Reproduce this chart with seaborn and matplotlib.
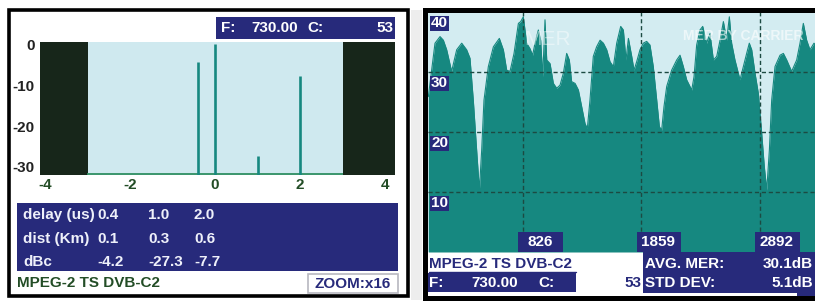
import matplotlib
matplotlib.use("Agg")
import matplotlib.pyplot as plt
import matplotlib.transforms as mtransforms
from matplotlib.patches import Rectangle
from matplotlib.lines import Line2D
import pandas as pd
import seaborn as sns

# ---------------- data: left panel (echo / impulse profile) ----------------
echo_delay_us = [-0.4, 0.0, 1.0, 2.0]
echo_level_dbc = [-4.2, 0.0, -27.3, -7.7]
left_xticks = [-4, -2, 0, 2, 4]
left_yticks = [0, -10, -20, -30]
guard_interval_us = 3.0
table_row_labels = ["delay (us)", "dist (Km)", "dBc"]
table_delay = ["0.4", "1.0", "2.0"]
table_dist = ["0.1", "0.3", "0.6"]
table_dbc = ["-4.2", "-27.3", "-7.7"]
freq_text = "730.00"
channel_text = "53"
zoom_text = "ZOOM:x16"
standard_text = "MPEG-2 TS DVB-C2"

# ---------------- data: right panel (MER by carrier) ----------------
carrier = [3, 61, 105, 134, 163, 206, 250, 294, 337, 366,
           395, 424, 448, 468, 488, 526, 570, 622, 657, 686,
           715, 750, 788, 808, 831, 860, 889, 912, 933, 962,
           982, 1000, 1020, 1035, 1064, 1093, 1122, 1151, 1180, 1209,
           1232, 1252, 1282, 1311, 1340, 1369, 1389, 1412, 1441, 1470,
           1500, 1529, 1558, 1587, 1616, 1645, 1680, 1703, 1726, 1747,
           1776, 1796, 1819, 1848, 1877, 1906, 1935, 1964, 1994, 2017,
           2037, 2057, 2081, 2124, 2168, 2197, 2226, 2255, 2299, 2319,
           2342, 2371, 2395, 2429, 2458, 2488, 2517, 2546, 2575, 2604,
           2627, 2647, 2676, 2720, 2749, 2778, 2801, 2822, 2851, 2880,
           2909, 2932, 2953, 2976, 2996, 3025, 3069, 3098, 3127, 3170,
           3214, 3243, 3272, 3301, 3330, 3365, 3380]
mer_db = [25.9, 34.8, 35.9, 35.3, 33.7, 30.1, 33.7, 34.8, 33.7, 32.3,
          25.3, 17.0, 10.3, 17.0, 25.3, 30.9, 34.2, 35.6, 33.7, 30.3,
          30.1, 33.1, 38.1, 38.4, 39.2, 34.8, 33.9, 32.8, 34.8, 37.0,
          35.3, 29.2, 38.7, 32.0, 31.4, 28.1, 27.3, 27.8, 29.8, 33.1,
          32.0, 28.4, 28.1, 27.0, 24.2, 21.4, 20.6, 25.3, 32.6, 34.2,
          35.3, 34.8, 33.7, 31.7, 30.9, 34.8, 37.6, 37.0, 32.0, 35.6,
          32.6, 30.3, 31.7, 33.7, 34.8, 35.1, 34.5, 30.9, 25.3, 20.9,
          20.3, 24.2, 27.6, 30.3, 32.0, 32.8, 30.9, 28.7, 27.0, 29.2,
          34.5, 37.0, 37.6, 34.8, 36.4, 32.0, 32.6, 35.3, 38.4, 35.3,
          39.2, 34.8, 32.0, 28.7, 30.9, 33.1, 34.8, 33.7, 29.8, 26.4,
          19.8, 14.2, 10.3, 17.0, 25.3, 30.9, 32.8, 33.1, 32.0, 30.1,
          32.0, 34.8, 38.1, 35.3, 33.7, 34.8, 34.5]
right_xticks = [826, 1859, 2892]
right_yticks = [40, 30, 20, 10]
avg_mer_text = "30.1dB"
std_dev_text = "5.1dB"

# ---------------- style ----------------
NAVY = "#272a7b"
DARK = "#17261a"
LIGHT_L = "#cfe9ef"
LIGHT_R = "#d3ecf1"
TEAL = "#168880"
GRID = "#1c4a42"
PALE = "#eef0fa"
DKGREEN = "#234d26"

sns.set_style("white")
plt.rcParams["font.family"] = ["Liberation Sans", "DejaVu Sans"]
plt.rcParams["font.weight"] = "bold"
FS = 11

W, H = 815, 304
fig = plt.figure(figsize=(W / 100, H / 100), dpi=100)
fig.patch.set_facecolor("white")


def ax_px(x0, y0, x1, y1):
    return fig.add_axes([x0 / W, 1 - y1 / H, (x1 - x0) / W, (y1 - y0) / H])


def rect_px(x0, y0, x1, y1, fc, ec="none", lw=0, z=5):
    fig.patches.append(Rectangle((x0 / W, 1 - y1 / H), (x1 - x0) / W, (y1 - y0) / H,
                                 transform=fig.transFigure, facecolor=fc,
                                 edgecolor=ec, linewidth=lw, zorder=z))


def text_px(x, y, s, **kw):
    kw.setdefault("fontsize", FS)
    kw.setdefault("fontweight", "bold")
    kw.setdefault("va", "center")
    kw.setdefault("zorder", 6)
    fig.text(x / W, 1 - y / H, s, **kw)


# ================= LEFT PANEL =================
axL = ax_px(40, 42, 395, 175)
axL.set_facecolor(LIGHT_L)
xl0, xl1 = (40 - 215) / 42.5, (395 - 215) / 42.5
yl0, yl1 = -32, 0.6
axL.axvspan(xl0, -guard_interval_us, color=DARK, lw=0, zorder=1)
axL.axvspan(guard_interval_us, xl1, color=DARK, lw=0, zorder=1)
axL.hlines(yl0 + 0.35, -guard_interval_us, guard_interval_us, color="#2f8f62", lw=1.3, zorder=2)
axL.vlines(echo_delay_us, yl0, echo_level_dbc, color=TEAL, lw=1.9, zorder=3)
axL.set_xlim(xl0, xl1)
axL.set_ylim(yl0, yl1)
axL.set_xticks(left_xticks)
axL.set_xticklabels([str(v) for v in left_xticks], color=DKGREEN, fontsize=FS, fontweight="bold")
axL.set_yticks(left_yticks)
axL.set_yticklabels([str(v) for v in left_yticks], color="#222222", fontsize=FS, fontweight="bold")
axL.tick_params(axis="x", length=0, pad=2)
axL.tick_params(axis="y", length=0, pad=4)
for s in axL.spines.values():
    s.set_visible(False)

# header box
rect_px(216, 17, 395, 39, NAVY)
text_px(221, 28, "F:", color="white", ha="left")
text_px(298, 28, freq_text, color="white", ha="right")
text_px(307, 28, "C:", color="white", ha="left")
text_px(393, 28, channel_text, color="white", ha="right")

# table
rect_px(17, 203, 398, 271, NAVY)
col_x = [97, 148, 194]
row_y = [215, 239, 262]
for lab, vals, y in zip(table_row_labels, [table_delay, table_dist, table_dbc], row_y):
    text_px(23, y, lab, color=PALE, ha="left")
    for v, x in zip(vals, col_x):
        text_px(x, y, v, color=PALE, ha="left")

text_px(17, 283, standard_text, color=DKGREEN, ha="left")
rect_px(308, 274, 398, 293, "white", ec="#b8b8c0", lw=1.2)
text_px(353, 283.5, zoom_text, color=NAVY, ha="center")

# left frame
rect_px(8.5, 10, 408, 296, "none", ec="black", lw=2.6, z=7)
rect_px(411, 10, 422, 300, "#ededed", z=1)

# ================= RIGHT PANEL =================
axR = ax_px(428, 12, 815, 252)
axR.set_facecolor(LIGHT_R)
df = pd.DataFrame({"carrier": carrier, "mer": mer_db})
axR.fill_between(df["carrier"], 0, df["mer"], color=TEAL, lw=0, zorder=2)
sns.lineplot(data=df, x="carrier", y="mer", ax=axR, color=TEAL, lw=0.8, zorder=3)
xr1 = (815 - 428) / 0.11471
axR.set_xlim(0, xr1)
axR.set_ylim(0, 40)
axR.set_xlabel("")
axR.set_ylabel("")
axR.set_xticks([])
axR.set_yticks([])
for s in axR.spines.values():
    s.set_visible(False)
for v in right_yticks:
    if v < 40:
        axR.axhline(v, color=GRID, lw=1.0, ls=(0, (3, 2)), zorder=4)
for t in right_xticks:
    axR.axvline(t, color=GRID, lw=1.0, ls=(0, (3, 2)), zorder=4)

# faded overlay titles
axR.text(0.31, 0.885, "MER", transform=axR.transAxes, color="white", alpha=0.45,
         fontsize=15, fontweight="normal", ha="center", va="center", zorder=5)
axR.text(0.66, 0.9, "MER BY CARRIER", transform=axR.transAxes, color="white", alpha=0.6,
         fontsize=10, fontweight="bold", ha="left", va="center", zorder=5)

# y tick label boxes (axes x, data y)
trY = mtransforms.blended_transform_factory(axR.transAxes, axR.transData)
for v in right_yticks:
    axR.add_patch(Rectangle((0.005, v - 3.2), 0.05, 2.6, transform=trY,
                            facecolor=NAVY, lw=0, zorder=6, clip_on=False))
    axR.text(0.03, v - 1.9, str(v), transform=trY, color="white", fontsize=FS,
             fontweight="bold", ha="center", va="center", zorder=7)

# x tick label boxes (data x, axes y)
trX = mtransforms.blended_transform_factory(axR.transData, axR.transAxes)
for t in right_xticks:
    axR.add_patch(Rectangle((t - 40, 0.0), 390, 0.085, transform=trX,
                            facecolor=NAVY, lw=0, zorder=6, clip_on=False))
    axR.text(t + 150, 0.043, str(t), transform=trX, color="white", fontsize=FS,
             fontweight="bold", ha="center", va="center", zorder=7)

# info area
text_px(429, 264, standard_text, color=NAVY, ha="left")
fig.lines.append(Line2D([429 / W, 576 / W], [1 - 272 / H, 1 - 272 / H],
                        transform=fig.transFigure, color=NAVY, lw=1.0, zorder=6))
rect_px(428, 273, 576, 292, NAVY)
text_px(429, 283, "F:", color="white", ha="left")
text_px(518, 283, freq_text, color="white", ha="right")
text_px(538, 283, "C:", color="white", ha="left")
text_px(641, 283, channel_text, color=NAVY, ha="right")
rect_px(643, 252, 815, 293, NAVY)
rect_px(797, 293, 815, 296, NAVY)
text_px(645, 264, "AVG. MER:", color="white", ha="left")
text_px(813, 264, avg_mer_text, color="white", ha="right")
text_px(645, 283, "STD DEV:", color="white", ha="left")
text_px(813, 283, std_dev_text, color="white", ha="right")

# right frame
rect_px(423, 8.5, 815, 12.5, "black", z=7)
rect_px(423, 8.5, 428, 301, "black", z=7)
rect_px(423, 296, 815, 301, "black", z=7)

fig.savefig("out.png", dpi=100, facecolor="white")
